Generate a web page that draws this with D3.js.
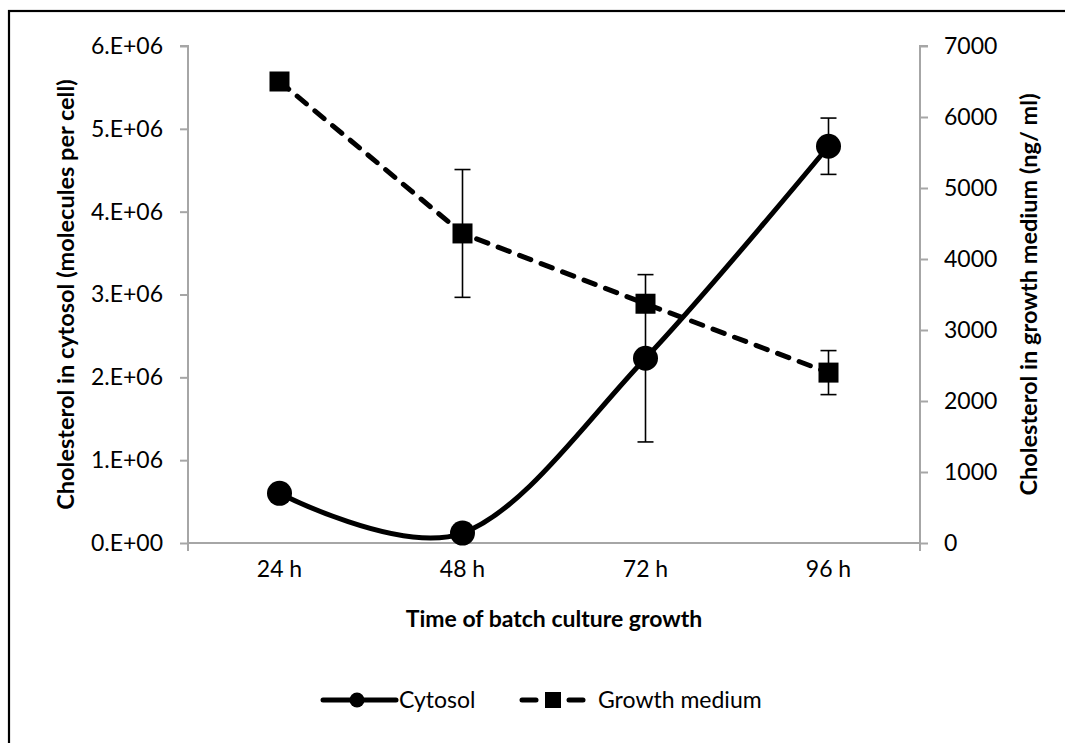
<!DOCTYPE html>
<html>
<head>
<meta charset="utf-8">
<script src="https://cdn.jsdelivr.net/npm/d3@7"></script>
<style>
  body { margin: 0; background: #fff; }
  text { font-family: Lato, "Open Sans", sans-serif; fill: #000; }
</style>
</head>
<body>
<div id="caja"></div>
<script>
// datos
var horas      = ["24 h", "48 h", "72 h", "96 h"];
var citosol    = [0.60e6, 0.12e6, 2.23e6, 4.79e6];   // moleculas por celula
var citosolErr = [0.05e6, 0.05e6, 1.01e6, 0.34e6];
var medio      = [6500, 4360, 3370, 2400];            // ng/ml
var medioErr   = [50, 900, 120, 310];
var ticksIzq   = [0, 1e6, 2e6, 3e6, 4e6, 5e6, 6e6];
var ticksDer   = [0, 1000, 2000, 3000, 4000, 5000, 6000, 7000];

var w = 1065, h = 743;
var pIzq = 188, pDer = 920, pArr = 46, pAba = 543;

var svg = d3.select('#caja')
  .append('svg')
  .attr('width', w)
  .attr('height', h);

// marco
svg.append("rect")
  .attr("x", 9).attr("y", 11)
  .attr("width", 1100).attr("height", 800)
  .attr("fill", "none").attr("stroke", "#000").attr("stroke-width", 2.2);

var x = d3.scaleBand().domain(horas).range([pIzq, pDer]);
var yIzq = d3.scaleLinear().domain([0, 6e6]).range([pAba, pArr]);
var yDer = d3.scaleLinear().domain([0, 7000]).range([pAba, pArr]);
var cx = function(d, i) { return x(horas[i]) + x.bandwidth() / 2; };

var gris = "#a6a6a6";
var fmtIzq = function(v) { return (v / 1e6).toFixed(0) + ".E+0" + (v === 0 ? "0" : "6"); };

// eje izquierdo
var ejeIzq = svg.append("g")
  .attr("transform", "translate(" + pIzq + ",0)")
  .call(d3.axisLeft(yIzq).tickValues(ticksIzq).tickFormat(fmtIzq).tickSize(8).tickPadding(17));
// eje derecho
var ejeDer = svg.append("g")
  .attr("transform", "translate(" + pDer + ",0)")
  .call(d3.axisRight(yDer).tickValues(ticksDer).tickFormat(d3.format("d")).tickSize(8).tickPadding(16));
// eje x
var ejeX = svg.append("g")
  .attr("transform", "translate(0," + pAba + ")")
  .call(d3.axisBottom(x).tickSize(0).tickPadding(27));

[ejeIzq, ejeDer, ejeX].forEach(function(g) {
  g.select(".domain").attr("stroke", gris).attr("stroke-width", 2);
  g.selectAll(".tick line").attr("stroke", gris).attr("stroke-width", 2);
  g.selectAll("text").style("font-size", "23px").attr("fill", "#000")
   .style("font-family", "Lato, 'Open Sans', sans-serif");
});
ejeIzq.select(".domain").attr("d", "M0," + (pAba + 8) + "V" + pArr + "H-8");
ejeDer.select(".domain").attr("d", "M0," + (pAba + 8) + "V" + pArr + "H8");
ejeX.select(".domain").attr("d", "M" + pIzq + ",0H" + pDer);
ejeX.selectAll("text").attr("dy", "0.32em");

// titulos
svg.append("text")
  .attr("x", (pIzq + pDer) / 2).attr("y", 627)
  .attr("text-anchor", "middle")
  .style("font-size", "23px").style("font-weight", "bold")
  .text("Time of batch culture growth");
svg.append("text")
  .attr("transform", "translate(74," + (pArr + pAba) / 2 + ") rotate(-90)")
  .attr("text-anchor", "middle")
  .style("font-size", "23.5px").style("font-weight", "bold")
  .text("Cholesterol in cytosol (molecules per cell)");
svg.append("text")
  .attr("transform", "translate(1037," + (pArr + pAba) / 2 + ") rotate(-90)")
  .attr("text-anchor", "middle")
  .style("font-size", "23.5px").style("font-weight", "bold")
  .text("Cholesterol in growth medium (ng/ ml)");

// lineas
var lineaCit = d3.line()
  .x(cx)
  .y(function(d) { return yIzq(d); })
  .curve(d3.curveCardinal.tension(0));
var lineaMed = d3.line()
  .x(cx)
  .y(function(d) { return yDer(d); });

svg.append("path").datum(citosol)
  .attr("d", lineaCit)
  .attr("fill", "none").attr("stroke", "#000").attr("stroke-width", 5);
svg.append("path").datum(medio)
  .attr("d", lineaMed)
  .attr("fill", "none").attr("stroke", "#000").attr("stroke-width", 5)
  .attr("stroke-dasharray", "12,11").attr("stroke-linecap", "round");

// barras de error
function barras(vals, errs, y, clase) {
  var g = svg.append("g").classed(clase, true)
    .selectAll("g").data(vals).enter().append("g");
  g.append("line")
    .attr("x1", cx).attr("x2", cx)
    .attr("y1", function(d, i) { return y(d - errs[i]); })
    .attr("y2", function(d, i) { return y(d + errs[i]); });
  g.append("line")
    .attr("x1", function(d, i) { return cx(d, i) - 8; })
    .attr("x2", function(d, i) { return cx(d, i) + 8; })
    .attr("y1", function(d, i) { return y(d - errs[i]); })
    .attr("y2", function(d, i) { return y(d - errs[i]); });
  g.append("line")
    .attr("x1", function(d, i) { return cx(d, i) - 8; })
    .attr("x2", function(d, i) { return cx(d, i) + 8; })
    .attr("y1", function(d, i) { return y(d + errs[i]); })
    .attr("y2", function(d, i) { return y(d + errs[i]); });
  g.selectAll("line").attr("stroke", "#000").attr("stroke-width", 1.6);
}
barras(citosol, citosolErr, yIzq, "errCit");
barras(medio, medioErr, yDer, "errMed");

// marcadores
svg.append("g").selectAll("circle")
  .data(citosol).enter().append("circle")
  .attr("cx", cx).attr("cy", function(d) { return yIzq(d); })
  .attr("r", 12.5).attr("fill", "#000");
svg.append("g").selectAll("rect")
  .data(medio).enter().append("rect")
  .attr("x", function(d, i) { return cx(d, i) - 10; })
  .attr("y", function(d) { return yDer(d) - 10; })
  .attr("width", 20).attr("height", 20).attr("fill", "#000");

// leyenda
var ley = svg.append("g");
ley.append("line").attr("x1", 323).attr("x2", 396).attr("y1", 700).attr("y2", 700)
  .attr("stroke", "#000").attr("stroke-width", 5).attr("stroke-linecap", "round");
ley.append("circle").attr("cx", 357).attr("cy", 700).attr("r", 7.5).attr("fill", "#000");
ley.append("text").attr("x", 399).attr("y", 708).style("font-size", "23px").text("Cytosol");
ley.append("line").attr("x1", 522).attr("x2", 536).attr("y1", 700).attr("y2", 700)
  .attr("stroke", "#000").attr("stroke-width", 5).attr("stroke-linecap", "round");
ley.append("line").attr("x1", 569).attr("x2", 583).attr("y1", 700).attr("y2", 700)
  .attr("stroke", "#000").attr("stroke-width", 5).attr("stroke-linecap", "round");
ley.append("rect").attr("x", 545).attr("y", 692).attr("width", 16).attr("height", 16).attr("fill", "#000");
ley.append("text").attr("x", 598).attr("y", 708).style("font-size", "23px").text("Growth medium");
</script>
</body>
</html>
